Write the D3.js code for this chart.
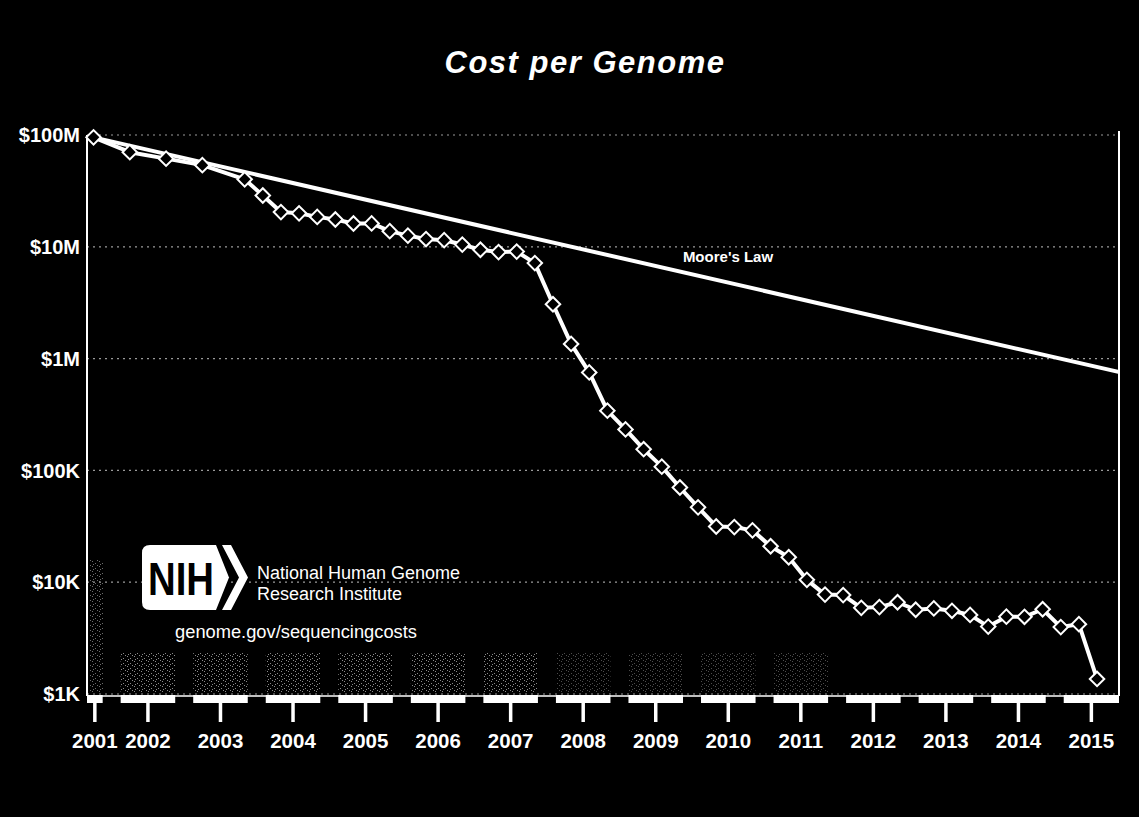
<!DOCTYPE html>
<html>
<head>
<meta charset="utf-8">
<script src="https://cdn.jsdelivr.net/npm/d3@7"></script>
<style>
  html, body { margin: 0; padding: 0; background: #000; }
  svg { display: block; }
  text { font-family: "Liberation Sans", Arial, sans-serif; }
</style>
</head>
<body>
<svg id="chart" width="1139" height="817"></svg>
<script>
// ---- data ----
const yearLabels = ["2001","2002","2003","2004","2005","2006","2007","2008","2009","2010","2011","2012","2013","2014","2015"];
const yTickValues = [1e3, 1e4, 1e5, 1e6, 1e7, 1e8];
const yTickLabels = ["$1K", "$10K", "$100K", "$1M", "$10M", "$100M"];

const dates = ["2001-09","2002-03","2002-09","2003-03","2003-10","2004-01","2004-04","2004-07","2004-10",
  "2005-01","2005-04","2005-07","2005-10","2006-01","2006-04","2006-07","2006-10","2007-01","2007-04",
  "2007-07","2007-10","2008-01","2008-04","2008-07","2008-10","2009-01","2009-04","2009-07","2009-10",
  "2010-01","2010-04","2010-07","2010-10","2011-01","2011-04","2011-07","2011-10","2012-01","2012-04",
  "2012-07","2012-10","2013-01","2013-04","2013-07","2013-10","2014-01","2014-04","2014-07","2014-10",
  "2015-01","2015-04","2015-07"];
const costs = [95263072, 70175437, 61448422, 53751684, 40157554, 28780376, 20442576, 19934346, 18519312,
  17534970, 16159699, 16180224, 13801124, 12585659, 11732535, 11455315, 10474556, 9408739, 8967841,
  9065016, 7147571, 3063820, 1352982, 752080, 342502, 232735, 154714, 108065, 70333,
  46774, 31512, 31125, 29092, 20963, 16712, 10497, 7743, 7666, 5901,
  5985, 6618, 5671, 5826, 5550, 5096, 4008, 4920, 4905, 5731,
  3970, 4211, 1363];

const mooreDates = ["2001-09", "2015-11"];
const mooreCosts = [95263072, 750000];

const titleText = "Cost per Genome";
const mooreLabel = "Moore's Law";

// ---- layout ----
const svg = d3.select("#chart");
const W = 1139, H = 817;
const pLeft = 87, pRight = 1119, pTop = 135, pBottom = 694;
const axisY = 696;

svg.append("rect").attr("width", W).attr("height", H).attr("fill", "#000");

const defs = svg.append("defs");
// speckle texture
const pat = defs.append("pattern").attr("id", "speckle").attr("patternUnits", "userSpaceOnUse")
  .attr("width", 7).attr("height", 5);
[[1, 1], [4, 3], [6, 0], [2, 4]].forEach(([px, py]) =>
  pat.append("rect").attr("x", px).attr("y", py).attr("width", 1).attr("height", 1).attr("fill", "#9a9a9a"));

const toYear = s => { const [yy, m] = s.split("-").map(Number); return yy + m / 12; };
const dMin = 2001.66, dMax = 2015.886;
const x = d3.scaleLinear().domain([dMin, dMax]).range([pLeft, pRight]);
const y = d3.scaleLog().domain([1e3, 1e8]).range([pBottom, pTop]);

const data = dates.map((d, i) => ({ t: toYear(d), v: costs[i] }));
const moore = mooreDates.map((d, i) => ({ t: toYear(d), v: mooreCosts[i] }));

// year bands
const bands = yearLabels.map(l => {
  const Y = +l;
  const a = Y > dMin ? x(Y) + 9 : x(dMin);
  const b = Y + 1 < dMax ? x(Y + 1) - 9 : x(dMax);
  return { label: l, a, b, c: (a + b) / 2 };
});

// faint speckle patches near bottom (scan texture)
svg.append("g").selectAll("rect").data(bands.slice(1, 11)).join("rect")
  .attr("x", d => d.a).attr("width", d => d.b - d.a)
  .attr("y", pBottom - 42).attr("height", 40)
  .attr("fill", "url(#speckle)")
  .attr("opacity", (d, i) => i < 6 ? 0.9 : 0.5);
svg.append("rect").attr("x", pLeft + 2).attr("width", 14)
  .attr("y", 560).attr("height", pBottom - 562)
  .attr("fill", "url(#speckle)").attr("opacity", 0.7);

// clip
defs.append("clipPath").attr("id", "plot")
  .append("rect").attr("x", pLeft).attr("y", pTop - 12).attr("width", pRight - pLeft).attr("height", pBottom - pTop + 24);

// grid lines
svg.append("g").selectAll("line").data(yTickValues).join("line")
  .attr("x1", pLeft).attr("x2", pRight)
  .attr("y1", d => y(d)).attr("y2", d => y(d))
  .attr("stroke", "#9a9a9a").attr("stroke-width", 1.2)
  .attr("stroke-dasharray", "2,4");

// y labels
svg.append("g").selectAll("text").data(yTickValues).join("text")
  .attr("x", 80).attr("y", d => y(d)).attr("dy", "0.36em")
  .attr("text-anchor", "end").attr("fill", "#fff")
  .attr("font-size", 20).attr("font-weight", "bold")
  .text((d, i) => yTickLabels[i]);

// frame lines
svg.append("line").attr("x1", pLeft).attr("x2", pLeft).attr("y1", pTop).attr("y2", axisY)
  .attr("stroke", "#fff").attr("stroke-width", 2);
svg.append("line").attr("x1", pRight).attr("x2", pRight).attr("y1", pTop - 4).attr("y2", axisY)
  .attr("stroke", "#fff").attr("stroke-width", 2);

// x axis
svg.append("line").attr("x1", pLeft).attr("x2", pRight).attr("y1", axisY).attr("y2", axisY)
  .attr("stroke", "#fff").attr("stroke-width", 1.5);
const xa = svg.append("g");
xa.selectAll("rect.bar").data(bands).join("rect").attr("class", "bar")
  .attr("x", d => d.a).attr("width", d => d.b - d.a)
  .attr("y", axisY - 1).attr("height", 8).attr("fill", "#fff");
xa.selectAll("line.tick").data(bands).join("line").attr("class", "tick")
  .attr("x1", d => d.c).attr("x2", d => d.c)
  .attr("y1", axisY + 6).attr("y2", 722)
  .attr("stroke", "#fff").attr("stroke-width", 3.5);
xa.selectAll("text").data(bands).join("text")
  .attr("x", d => d.c).attr("y", 748)
  .attr("text-anchor", "middle").attr("fill", "#fff")
  .attr("font-size", 20.5).attr("font-weight", "bold")
  .text(d => d.label);

// Moore's law line
const line = d3.line().x(d => x(d.t)).y(d => y(d.v));
svg.append("path").datum(moore).attr("d", line)
  .attr("clip-path", "url(#plot)")
  .attr("fill", "none").attr("stroke", "#fff").attr("stroke-width", 4);
svg.append("text").attr("x", 728).attr("y", 262)
  .attr("text-anchor", "middle").attr("fill", "#fff")
  .attr("font-size", 15).attr("font-weight", "bold")
  .text(mooreLabel);

// data line
svg.append("path").datum(data).attr("d", line)
  .attr("fill", "none").attr("stroke", "#fff").attr("stroke-width", 4)
  .attr("stroke-linejoin", "round");
const sym = d3.symbol().type(d3.symbolSquare).size(105);
svg.append("g").selectAll("path").data(data).join("path")
  .attr("d", sym)
  .attr("transform", d => `translate(${x(d.t)},${y(d.v)}) rotate(45)`)
  .attr("fill", "#000").attr("stroke", "#fff").attr("stroke-width", 2);

// title
svg.append("text").attr("x", 585).attr("y", 73)
  .attr("text-anchor", "middle").attr("fill", "#fff")
  .attr("font-size", 31).attr("font-style", "italic").attr("font-weight", "bold")
  .attr("letter-spacing", 1.5)
  .text(titleText);

// NIH logo
const lg = svg.append("g").attr("transform", "translate(142,545)");
const bh = 65, bw = 74, r = 8, pt = 13;
lg.append("path")
  .attr("d", `M${r},0 L${bw},0 L${bw + pt},${bh / 2} L${bw},${bh} L${r},${bh} Q0,${bh} 0,${bh - r} L0,${r} Q0,0 ${r},0 Z`)
  .attr("fill", "#fff");
lg.append("path")
  .attr("d", `M${bw + 6},0 L${bw + 15},0 L${bw + 15 + pt + 4},${bh / 2} L${bw + 15},${bh} L${bw + 6},${bh} L${bw + 6 + pt + 4},${bh / 2} Z`)
  .attr("fill", "#fff");
lg.append("text").attr("x", 6).attr("y", 50)
  .attr("fill", "#000").attr("font-size", 46).attr("font-weight", "bold")
  .attr("textLength", 66).attr("lengthAdjust", "spacingAndGlyphs")
  .text("NIH");
svg.append("text").attr("x", 257).attr("y", 579).attr("fill", "#fff")
  .attr("font-size", 18).text("National Human Genome");
svg.append("text").attr("x", 257).attr("y", 600).attr("fill", "#fff")
  .attr("font-size", 18).text("Research Institute");
svg.append("text").attr("x", 296).attr("y", 638).attr("fill", "#fff")
  .attr("text-anchor", "middle").attr("font-size", 18.3).text("genome.gov/sequencingcosts");
</script>
</body>
</html>
